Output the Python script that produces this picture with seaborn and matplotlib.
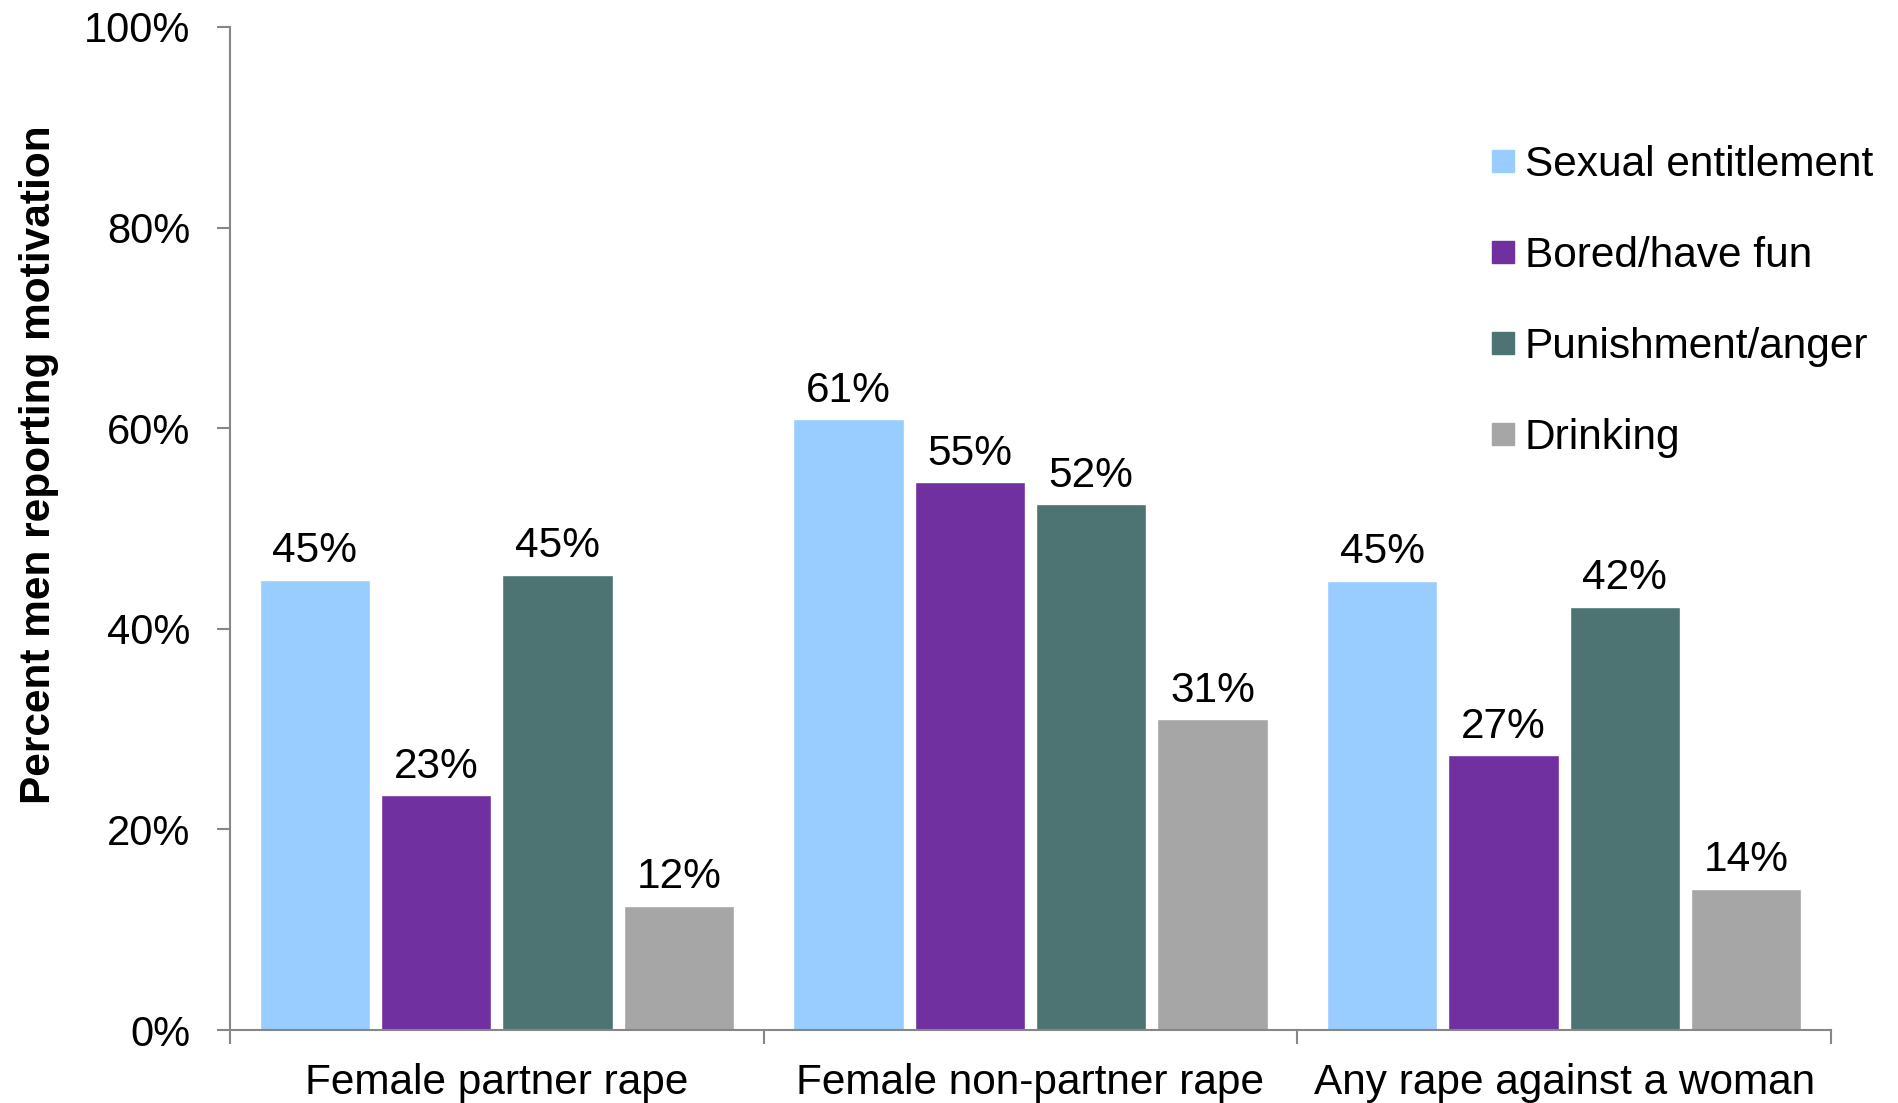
import matplotlib
matplotlib.use("Agg")
import matplotlib.pyplot as plt
from matplotlib.lines import Line2D
from matplotlib.ticker import FuncFormatter, FixedLocator
import seaborn as sns
import pandas as pd

categories = ["Female partner rape", "Female non-partner rape", "Any rape against a woman"]
motivations = ["Sexual entitlement", "Bored/have fun", "Punishment/anger", "Drinking"]
sexual_entitlement = [44.9, 60.9, 44.8]
bored_have_fun = [23.4, 54.6, 27.4]
punishment_anger = [45.4, 52.4, 42.2]
drinking = [12.4, 31.0, 14.1]
colors = ["#99CCFF", "#7030A0", "#4D7472", "#A6A6A6"]
y_ticks = [0, 20, 40, 60, 80, 100]
y_label = "Percent men reporting motivation"

series = [sexual_entitlement, bored_have_fun, punishment_anger, drinking]
rows = []
for m, vals in zip(motivations, series):
    for c, v in zip(categories, vals):
        rows.append({"category": c, "motivation": m, "value": v})
df = pd.DataFrame(rows)

sns.set_style("white")
plt.rcParams["font.family"] = ["Liberation Sans", "DejaVu Sans"]
plt.rcParams["text.color"] = "black"
plt.rcParams["axes.labelcolor"] = "black"
plt.rcParams["xtick.labelcolor"] = "black"
plt.rcParams["ytick.labelcolor"] = "black"

fig = plt.figure(figsize=(18.99, 11.03), dpi=100)
ax = fig.add_axes([230 / 1899, 1 - 1030 / 1103, (1831 - 230) / 1899, (1030 - 27) / 1103])

sns.barplot(data=df, x="category", y="value", hue="motivation", order=categories,
            hue_order=motivations, palette=colors, saturation=1, width=0.909, gap=0.09,
            errorbar=None, ax=ax, legend=False)

for cont in ax.containers:
    ax.bar_label(cont, labels=[f"{b.get_height():.0f}%" for b in cont],
                 padding=6, fontsize=30.5, color="black")

ax.set_ylim(0, 100)
ax.set_xlim(-0.5, 2.5)
ax.set_yticks(y_ticks)
ax.yaxis.set_major_formatter(FuncFormatter(lambda v, p: f"{v:.0f}%"))
ax.tick_params(axis="y", labelsize=30, length=9.5, width=1.5, color="#868686",
               labelcolor="black", pad=19, left=True)

ax.set_xticks(range(len(categories)))
ax.set_xticklabels(categories)
ax.xaxis.set_minor_locator(FixedLocator([-0.5, 0.5, 1.5, 2.5]))
ax.tick_params(axis="x", which="major", labelsize=30.5, length=0, pad=23.5, labelcolor="black")
ax.tick_params(axis="x", which="minor", length=10, width=1.5, color="#868686", bottom=True)

for s in ["top", "right"]:
    ax.spines[s].set_visible(False)
for s in ["left", "bottom"]:
    ax.spines[s].set_color("#868686")
    ax.spines[s].set_linewidth(1.5)

ax.set_xlabel("")
ax.set_ylabel(y_label, fontsize=30.5, fontweight="bold", color="black")
ax.yaxis.set_label_coords(-0.107, 0.5635)

handles = [Line2D([0], [0], marker="s", linestyle="none", markersize=16,
                  markerfacecolor=c, markeredgecolor=c) for c in colors]
leg = fig.legend(handles, motivations, loc="upper left", bbox_to_anchor=(1491 / 1899, 1 - 145 / 1103),
                 frameon=False, fontsize=30.5, handlelength=0.55, handletextpad=0.25,
                 labelspacing=1.2, borderpad=0, borderaxespad=0)
for t in leg.get_texts():
    t.set_color("black")

fig.savefig("out.png", dpi=100)
